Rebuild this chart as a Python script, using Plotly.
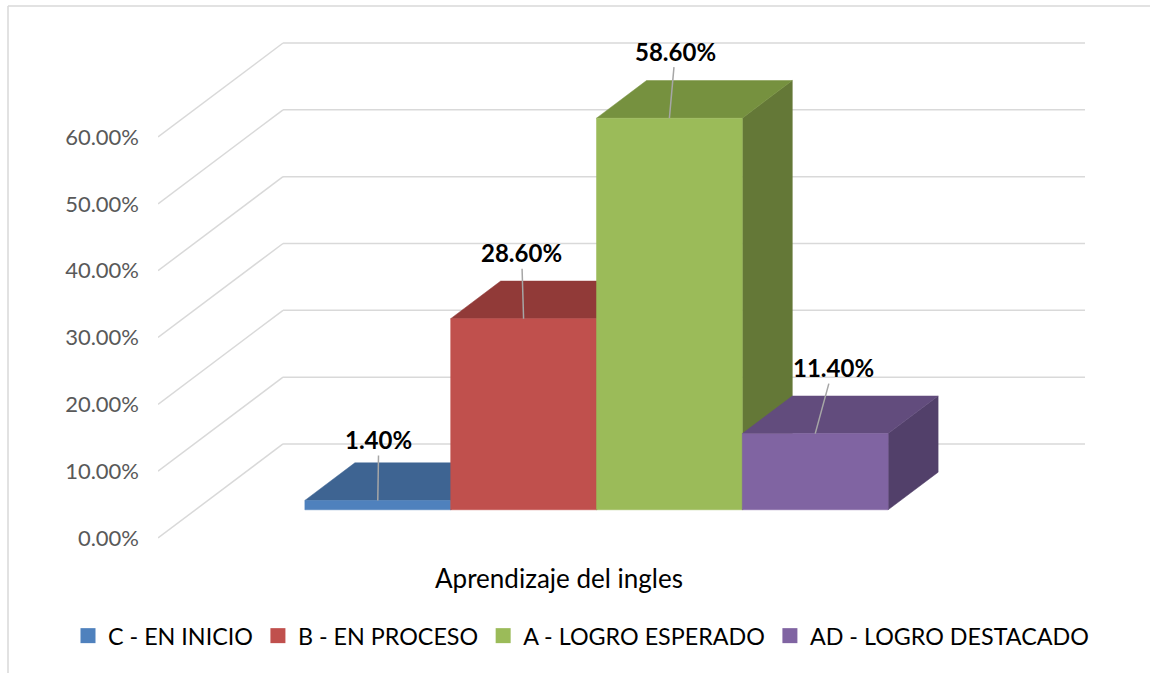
import plotly.graph_objects as go

# ---- data ----
category = ["Aprendizaje del ingles"]
series_names = ["C - EN INICIO", "B - EN PROCESO", "A - LOGRO ESPERADO", "AD - LOGRO DESTACADO"]
values = [0.014, 0.286, 0.586, 0.114]
value_labels = ["1.40%", "28.60%", "58.60%", "11.40%"]
tick_values = [0.0, 0.1, 0.2, 0.3, 0.4, 0.5, 0.6]
tick_labels = ["0.00%", "10.00%", "20.00%", "30.00%", "40.00%", "50.00%", "60.00%"]

# ---- style ----
front_colors = ["#4F81BD", "#C0504D", "#9BBB59", "#8064A2"]
top_colors = ["#3E6492", "#913A38", "#76913F", "#624C7D"]
side_colors = ["#34547A", "#7C312F", "#647837", "#52406A"]
GRID = "#D9D9D9"

# oblique projection of depth (0 = front of floor, 1 = back wall)
DX = 0.1559   # x shift per unit depth (category units)
DY = 0.1407   # y shift per unit depth (value units)
GAP = 1.5     # gap width relative to bar width
N = len(values)
BW = 1.0 / (N + GAP)
D0, D1 = 0.3, 0.7   # bar depth extent


def proj(x, y, d):
    return x + DX * d, y + DY * d


def poly(pts):
    xs, ys = [], []
    for (x, y, d) in pts:
        px, py = proj(x, y, d)
        xs.append(px)
        ys.append(py)
    xs.append(xs[0])
    ys.append(ys[0])
    return xs, ys


fig = go.Figure()

# gridlines: back wall + left wall
gx, gy = [], []
for t in tick_values:
    for (a, b) in [((0, t, 0), (0, t, 1)), ((0, t, 1), (1, t, 1))]:
        x0, y0 = proj(*a)
        x1, y1 = proj(*b)
        gx += [x0, x1, None]
        gy += [y0, y1, None]
fig.add_trace(go.Scatter(x=gx, y=gy, mode="lines", line=dict(color=GRID, width=1.5),
                         hoverinfo="skip", showlegend=False))

# bars (left to right so right bars occlude left bars' side faces)
for i, v in enumerate(values):
    x0 = (GAP / 2 + i) * BW
    x1 = x0 + BW
    side = [(x1, 0, D0), (x1, 0, D1), (x1, v, D1), (x1, v, D0)]
    top = [(x0, v, D0), (x1, v, D0), (x1, v, D1), (x0, v, D1)]
    front = [(x0, 0, D0), (x1, 0, D0), (x1, v, D0), (x0, v, D0)]
    for pts, col in [(side, side_colors[i]), (top, top_colors[i]), (front, front_colors[i])]:
        xs, ys = poly(pts)
        fig.add_trace(go.Scatter(x=xs, y=ys, mode="lines", fill="toself", fillcolor=col,
                                 line=dict(color=col, width=0.5), hoverinfo="skip",
                                 showlegend=False))

# legend entries
for i, name in enumerate(series_names):
    fig.add_trace(go.Scatter(x=[None], y=[None], mode="markers", name=name,
                             marker=dict(symbol="square", size=15, color=front_colors[i])))

# data labels with leader lines
label_offsets = [(1, -61), (-2, -66), (6, -67), (18, -66)]
for i, v in enumerate(values):
    xc = (GAP / 2 + i + 0.5) * BW
    ax_, ay_ = proj(xc, v, D0)
    fig.add_annotation(x=ax_, y=ay_, text="<b>%s</b>" % value_labels[i], showarrow=True,
                       arrowhead=0, arrowwidth=1.5, arrowcolor="#A6A6A6",
                       ax=label_offsets[i][0], ay=label_offsets[i][1],
                       font=dict(family="Lato", size=24, color="#000000"))

W, H = 1150, 673
ML, MR, MT, MB = 158, 65, 20, 113
px_per_y = 668.3
y0_px = 538  # pixel row of value 0 at front
ytop = (y0_px - MT) / px_per_y
ybot = -((H - MB) - y0_px) / px_per_y


def paper_x(px):
    return (px - ML) / (W - ML - MR)


def paper_y(py):
    return ((H - MB) - py) / (H - MT - MB)


# chart border (light grey, left and top edges visible)
for (xa, ya, xb, yb) in [(8, 6, 8, 700), (8, 6, 1170, 6)]:
    fig.add_shape(type="line", xref="paper", yref="paper",
                  x0=paper_x(xa), x1=paper_x(xb), y0=paper_y(ya), y1=paper_y(yb),
                  line=dict(color="#D9D9D9", width=1.5), layer="below")

fig.update_layout(
    width=W, height=H,
    margin=dict(l=ML, r=MR, t=MT, b=MB, pad=0),
    paper_bgcolor="white", plot_bgcolor="white",
    xaxis=dict(range=[0, 1 + DX], tickvals=[0.5], ticktext=category, showgrid=False,
               zeroline=False, showline=False, ticks="", ticklabelstandoff=1,
               tickfont=dict(family="Lato", size=26, color="#000000"), fixedrange=True),
    yaxis=dict(range=[ybot, ytop], tickvals=tick_values, ticktext=tick_labels, showgrid=False,
               zeroline=False, showline=False, ticks="", ticklabelstandoff=18,
               tickfont=dict(family="Lato", size=22, color="#595959"), fixedrange=True),
    legend=dict(orientation="h", x=paper_x(68), xanchor="left", y=paper_y(636), yanchor="middle",
                font=dict(family="Lato", size=23.3, color="#000000"), itemsizing="trace",
                bgcolor="rgba(0,0,0,0)", tracegroupgap=0),
    showlegend=True,
)

fig.write_html("out.html", config={"displayModeBar": False},
               post_script="document.body.style.margin='0';document.body.style.overflow='hidden';")
